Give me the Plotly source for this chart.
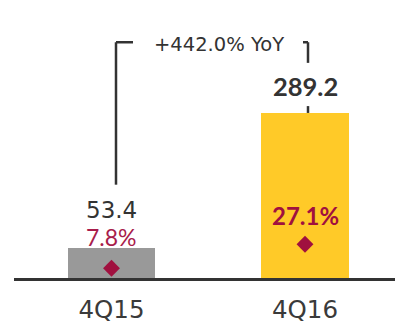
import plotly.graph_objects as go

# Quarterly values
quarters = ["4Q15", "4Q16"]
values = [53.4, 289.2]
margins = [7.8, 27.1]
value_labels = ["53.4", "289.2"]
margin_labels = ["7.8%", "27.1%"]
growth_label = "+442.0% YoY"

bar_colors = ["#999999", "#FFCA28"]
maroon = "#A0103F"
dark = "#333333"
wide_font = "'DejaVu Sans', sans-serif"
bold_font = "Lato, 'Open Sans', sans-serif"

fig = go.Figure()

fig.add_trace(go.Bar(
    x=[0, 1], y=values, width=0.45,
    marker=dict(color=bar_colors, line=dict(width=0)),
    hoverinfo="skip", showlegend=False,
))

fig.add_trace(go.Scatter(
    x=[0, 1], y=margins, yaxis="y2", mode="markers",
    marker=dict(symbol="diamond", size=13, color=maroon),
    hoverinfo="skip", showlegend=False,
))

# Value labels above bars
fig.add_annotation(x=0, y=values[0], text=value_labels[0], showarrow=False,
                   yanchor="middle", yshift=38,
                   font=dict(size=23, color=dark, family=wide_font))
fig.add_annotation(x=1, y=values[1], text="<b>" + value_labels[1] + "</b>", showarrow=False,
                   yanchor="middle", yshift=27,
                   font=dict(size=25.5, color=dark, family=bold_font))

# Margin labels above diamonds
fig.add_annotation(x=0, y=margins[0], yref="y2", text=margin_labels[0], showarrow=False,
                   yanchor="middle", yshift=31,
                   font=dict(size=23, color="#A81C4B", family=bold_font))
fig.add_annotation(x=1, y=margins[1], yref="y2", text="<b>" + margin_labels[1] + "</b>", showarrow=False,
                   yanchor="middle", yshift=29,
                   font=dict(size=24, color=maroon, family=bold_font))

# Growth bracket
px_per_cat = 193.5
xl = 0 + 4.5 / px_per_cat
xr = 1 + 3.0 / px_per_cat
line_style = dict(color=dark, width=2.5)
top_y = 1 - 43 / 283
fig.add_shape(type="line", xref="x", yref="paper", x0=xl, x1=xl, y0=1 - 188 / 283, y1=top_y, line=line_style)
fig.add_shape(type="line", xref="x", yref="paper", x0=xl, x1=xl + 17 / px_per_cat, y0=top_y, y1=top_y, line=line_style)
fig.add_shape(type="line", xref="x", yref="paper", x0=xr, x1=xr, y0=top_y, y1=1 - 64 / 283, line=line_style)
fig.add_shape(type="line", xref="x", yref="paper", x0=xr - 5 / px_per_cat, x1=xr, y0=top_y, y1=top_y, line=line_style)
fig.add_shape(type="line", xref="x", yref="paper", x0=xr, x1=xr, y0=1 - 108 / 283, y1=values[1] * 0.581 / 283, line=line_style)
fig.add_annotation(x=(219 - 111.5) / px_per_cat, xref="x", y=1 - 45 / 283, yref="paper",
                   yanchor="middle", xanchor="center", text=growth_label, showarrow=False,
                   font=dict(size=19.5, color=dark, family=wide_font))

fig.update_layout(
    width=395, height=324,
    margin=dict(l=14, r=0, t=0, b=41),
    paper_bgcolor="white", plot_bgcolor="white",
    xaxis=dict(range=[(14 - 111.5) / px_per_cat, (395 - 111.5) / px_per_cat],
               tickmode="array", tickvals=[0, 1], ticktext=quarters,
               tickfont=dict(size=24.5, color="#3a3a3a", family=wide_font),
               ticklabelstandoff=8,
               showline=True, linecolor=dark, linewidth=2.5, showgrid=False,
               zeroline=False, ticks="", fixedrange=True),
    yaxis=dict(range=[0, 283 / 0.581], visible=False, showgrid=False, zeroline=False),
    yaxis2=dict(range=[0, 283 / 1.27], overlaying="y", visible=False, showgrid=False, zeroline=False),
    bargap=0,
)

fig.write_html("out.html")
